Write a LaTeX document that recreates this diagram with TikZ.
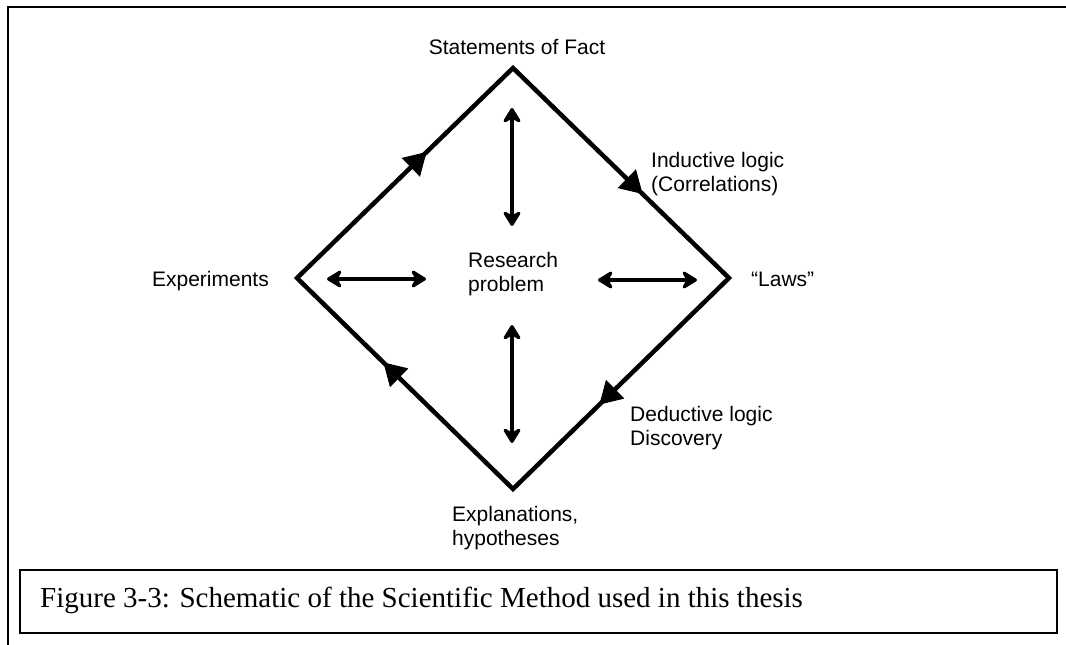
\documentclass[tikz,border=0pt]{standalone}
\usepackage{fontspec}
\setmainfont{Liberation Serif}
\setsansfont{Liberation Sans}
\usetikzlibrary{arrows.meta,decorations.markings}

\begin{document}
\begin{tikzpicture}[x=1pt,y=-1pt,
  lbl/.style={font=\sffamily\fontsize{21}{23.5}\selectfont, inner sep=0pt, align=left},
  frame/.style={line width=2.5pt},
  edge/.style={line width=4.5pt, line join=miter},
  flowtip/.style={draw=none, postaction={decorate},
    decoration={markings, mark=at position 0.6 with {\arrow[line width=1pt]{Triangle[length=22pt,width=26pt]}}}},
  twoway/.style={line width=4.5pt,
    {Stealth[length=18pt,width=22pt,inset=6pt,round]}-{Stealth[length=18pt,width=22pt,inset=6pt,round]}},
]
\useasboundingbox (0,0) rectangle (1066,645);

% page frame: left rule and top rule
\draw[frame] (8,645) -- (8,7) -- (1066,7);

% corners of the diamond
\coordinate (T) at (513,68);
\coordinate (R) at (729,278);
\coordinate (B) at (513,489);
\coordinate (L) at (297,278);

% diamond outline with the clockwise flow marks
\draw[edge] (L) -- (T) -- (R) -- (B) -- cycle;
\path[flowtip] (L) -- (T);
\path[flowtip] (T) -- (R);
\path[flowtip] (R) -- (B);
\path[flowtip] (B) -- (L);

% two-way arrows around the research problem
\coordinate (n1) at (512,108);  \coordinate (n2) at (512,226);
\coordinate (s1) at (512,325);  \coordinate (s2) at (512,443);
\coordinate (w1) at (327,279);  \coordinate (w2) at (426,279);
\coordinate (e1) at (598,280);  \coordinate (e2) at (697,280);
\draw[twoway] (n1) -- (n2);
\draw[twoway] (s1) -- (s2);
\draw[twoway] (w1) -- (w2);
\draw[twoway] (e1) -- (e2);

% labels (base anchor sits on the last line of a two-line label)
\node[lbl, anchor=base] (fact) at (517,54) {Statements of Fact};
\node[lbl, anchor=base west] (induct) at (651,191) {Inductive logic\\(Correlations)};
\node[lbl, anchor=base east] (exper) at (269,286) {Experiments};
\node[lbl, anchor=base west] (problem) at (468,291) {Research\\problem};
\node[lbl, anchor=base west] (laws) at (751,286) {“Laws”};
\node[lbl, anchor=base west] (deduct) at (630,445) {Deductive logic\\Discovery};
\node[lbl, anchor=base west] (explain) at (452,545) {Explanations,\\hypotheses};

% caption box
\draw[line width=2pt] (20,570) rectangle (1057,633);
\node[font=\fontsize{29}{33}\selectfont, inner sep=0pt, anchor=base west] (caption) at (40,607)
  {Figure 3-3: Schematic of the Scientific Method used in this thesis};
\end{tikzpicture}
\end{document}
